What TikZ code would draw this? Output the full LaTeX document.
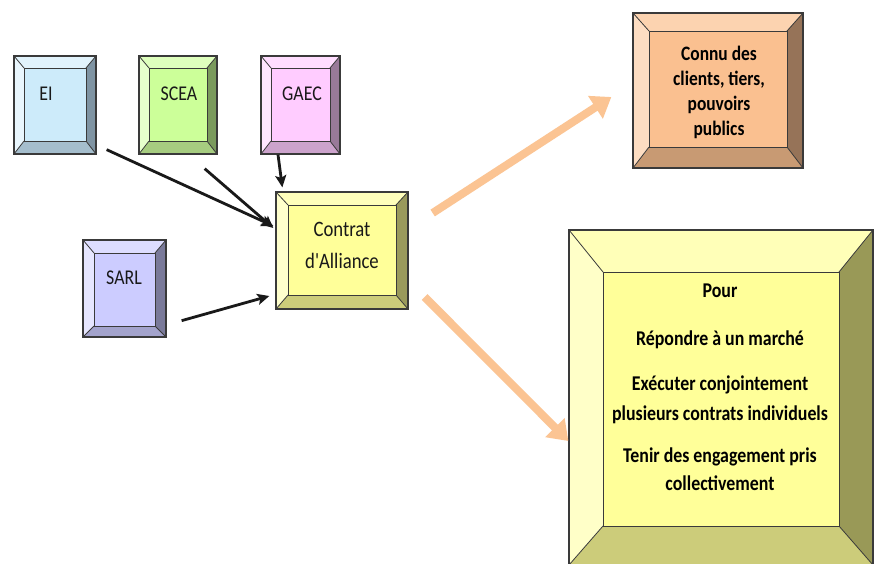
\documentclass[tikz,border=0pt]{standalone}
\usepackage{fontspec}
\setmainfont{Carlito}
\newfontfamily\lblfont[FakeStretch=0.85]{Carlito}
\newfontfamily\boldlbl[FakeStretch=0.85]{Carlito Bold}
\usetikzlibrary{arrows.meta,calc}

\definecolor{eiface}{HTML}{CDEBFA}\definecolor{eitop}{HTML}{E1F3FC}\definecolor{eileft}{HTML}{E9F6FD}\definecolor{eiright}{HTML}{7F94A3}\definecolor{eibot}{HTML}{A5BECD}
\definecolor{sceaface}{HTML}{CCFF99}\definecolor{sceatop}{HTML}{DEFFBD}\definecolor{scealeft}{HTML}{E6FFCC}\definecolor{scearight}{HTML}{7A9A5C}\definecolor{sceabot}{HTML}{A6CC80}
\definecolor{gaecface}{HTML}{FFCCFF}\definecolor{gaectop}{HTML}{FFDDFF}\definecolor{gaecleft}{HTML}{FFE6FF}\definecolor{gaecright}{HTML}{997A99}\definecolor{gaecbot}{HTML}{CCA3CC}
\definecolor{sarlface}{HTML}{CCCCFF}\definecolor{sarltop}{HTML}{DDDDFF}\definecolor{sarlleft}{HTML}{E6E6FF}\definecolor{sarlright}{HTML}{7A7A9A}\definecolor{sarlbot}{HTML}{A3A3CC}
\definecolor{contratface}{HTML}{FFFF99}\definecolor{contrattop}{HTML}{FFFFBB}\definecolor{contratleft}{HTML}{FFFFCC}\definecolor{contratright}{HTML}{9A9A5C}\definecolor{contratbot}{HTML}{CCCC7A}
\definecolor{connuface}{HTML}{FAC090}\definecolor{connutop}{HTML}{FCD3B0}\definecolor{connuleft}{HTML}{FDDDC2}\definecolor{connuright}{HTML}{967358}\definecolor{connubot}{HTML}{C89A73}
\definecolor{bigface}{HTML}{FFFF99}\definecolor{bigtop}{HTML}{FFFFB8}\definecolor{bigleft}{HTML}{FFFFC8}\definecolor{bigright}{HTML}{999957}\definecolor{bigbot}{HTML}{CCCC7A}
\definecolor{peach}{HTML}{FBC493}
\definecolor{edge}{HTML}{3A3A3A}

\tikzset{
  bevline/.style={draw=edge, line width=0.8pt},
  outerbox/.style={draw=edge, line width=1.3pt, inner sep=0pt, fill=none},
  lbl/.style={font=\lblfont\fontsize{21}{25}\selectfont, inner sep=0pt, text=black!90, anchor=base},
  blk/.style={line width=2.8pt, black!90, -{Stealth[length=12pt,width=11pt,inset=2.5pt]}},
  big arrow/.style={line width=8pt, peach, -{Triangle[length=19pt,width=26pt]}}
}

% #1 name, #2 x1, #3 y1, #4 x2, #5 y2, #6 side bevel, #7 top bevel, #8 bottom bevel
\newcommand\bevbox[8]{%
  \fill[#1top] (#2,#3) -- (#4,#3) -- ({#4-#6},{#3+#7}) -- ({#2+#6},{#3+#7}) -- cycle;
  \fill[#1bot] (#2,#5) -- (#4,#5) -- ({#4-#6},{#5-#8}) -- ({#2+#6},{#5-#8}) -- cycle;
  \fill[#1left] (#2,#3) -- ({#2+#6},{#3+#7}) -- ({#2+#6},{#5-#8}) -- (#2,#5) -- cycle;
  \fill[#1right] (#4,#3) -- ({#4-#6},{#3+#7}) -- ({#4-#6},{#5-#8}) -- (#4,#5) -- cycle;
  \draw[bevline, fill=#1face] ({#2+#6},{#3+#7}) rectangle ({#4-#6},{#5-#8});
  \draw[bevline] (#2,#3) -- ({#2+#6},{#3+#7}) (#4,#3) -- ({#4-#6},{#3+#7})
                 (#2,#5) -- ({#2+#6},{#5-#8}) (#4,#5) -- ({#4-#6},{#5-#8});
  \node[outerbox, minimum width={#4-#2}, minimum height={#5-#3}] (#1) at ({(#2+#4)/2},{(#3+#5)/2}) {};
}

\begin{document}
\begin{tikzpicture}[x=1pt,y=-1pt]
\fill[white] (0,0) rectangle (875,563);
\useasboundingbox (0,0) rectangle (875,563);

\bevbox{ei}{14}{56}{96}{154}{10}{12}{13}
\bevbox{scea}{139}{56}{217}{154}{10}{12}{13}
\bevbox{gaec}{261}{56}{340}{154}{10}{12}{13}
\bevbox{sarl}{83}{240}{166}{337}{11}{13}{11}
\bevbox{contrat}{276}{192}{408}{309}{12}{13}{14}
\bevbox{connu}{633}{13}{803}{168}{16}{18}{21}
\bevbox{big}{569}{230}{873}{565}{34}{42}{39}

\node[lbl] (eit) at (46,100) {EI};
\node[lbl] (sceat) at (179,100) {SCEA};
\node[lbl] (gaect) at (302,100) {GAEC};
\node[lbl] (sarlt) at (124,284) {SARL};
\node[font=\lblfont\fontsize{22}{32}\selectfont, inner sep=0pt, text=black!90, align=center, anchor=north]
  (contratt) at (342,222) {Contrat\\d'Alliance};
\node[font=\boldlbl\fontsize{20.5}{25}\selectfont, inner sep=0pt, text=black, align=center, anchor=north]
  (connut) at (719,46) {Connu des\\clients, tiers,\\pouvoirs\\publics};
\node[font=\boldlbl\fontsize{21}{28}\selectfont, inner sep=0pt, text=black, align=center, anchor=north]
  (bigt) at (720,283.5) {Pour\\[20pt]Répondre à un marché\\[17pt]Exécuter conjointement\\[2pt]plusieurs contrats individuels\\[14pt]Tenir des engagement pris\\collectivement};

\draw[blk] ($(ei.south east)+(10,-5)$) -- ($(contrat.west)+(-2,-24.5)$);
\draw[blk] ($(scea.south east)+(-13,14)$) -- ($(contrat.west)+(-2,-22.5)$);
\draw[blk] ($(gaec.south)+(-22.5,0)$) -- ($(contrat.north west)+(7,-4)$);
\draw[blk] ($(sarl.south east)+(15,-17)$) -- ($(contrat.west)+(-6,45.5)$);

\draw[big arrow] ($(contrat.east)+(24,-37.5)$) -- ($(connu.west)+(-21,6.5)$);
\draw[big arrow] ($(contrat.east)+(16,46.5)$) -- ($(big.west)+(0,43.5)$);
\end{tikzpicture}
\end{document}
